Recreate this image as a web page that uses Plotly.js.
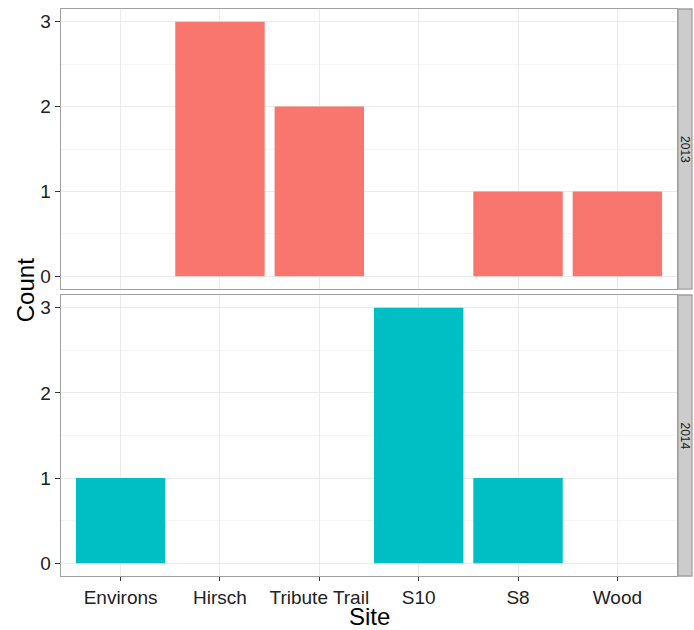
<!DOCTYPE html>
<html>
<head>
<meta charset="utf-8">
<script src="https://cdn.plot.ly/plotly-3.0.1.min.js"></script>
<style>html,body{margin:0;padding:0;background:#fff;}#chart{width:694px;height:630px;}</style>
</head>
<body>
<div id="chart"></div>
<script>
const sites = ["Environs", "Hirsch", "Tribute Trail", "S10", "S8", "Wood"];
const counts2013 = [null, 3, 2, null, 1, 1];
const counts2014 = [1, null, null, 3, 1, null];
const yTicks = [0, 1, 2, 3];
const facetLabels = ["2013", "2014"];

const fontFam = "Liberation Sans, Arial, sans-serif";
const gridCol = "#EBEBEB";
const borderCol = "#A0A0A0";

const data = [
  {type: "bar", x: sites, y: counts2013, xaxis: "x", yaxis: "y",
   marker: {color: "#F8766D", line: {width: 0}}, hoverinfo: "x+y", showlegend: false},
  {type: "bar", x: sites, y: counts2014, xaxis: "x2", yaxis: "y2",
   marker: {color: "#00BFC4", line: {width: 0}}, hoverinfo: "x+y", showlegend: false}
];

function xAxis(showLabels, anchor) {
  return {
    type: "category", categoryorder: "array", categoryarray: sites,
    range: [-0.6, sites.length - 0.4], anchor: anchor,
    showgrid: true, gridcolor: gridCol, gridwidth: 1,
    showline: true, mirror: true, linecolor: borderCol, linewidth: 1.3,
    ticks: showLabels ? "outside" : "", ticklen: 4, tickcolor: "#333", tickwidth: 1,
    showticklabels: showLabels,
    tickfont: {family: fontFam, size: 19, color: "#222"},
    zeroline: false, fixedrange: true
  };
}
function yAxis(domain, anchor) {
  return {
    domain: domain, anchor: anchor, range: [-0.15, 3.15],
    tickvals: yTicks, ticktext: yTicks.map(String),
    showgrid: true, gridcolor: gridCol, gridwidth: 1,
    minor: {dtick: 0.5, showgrid: true, gridcolor: "#F5F5F5", gridwidth: 1, ticks: ""},
    showline: true, mirror: true, linecolor: borderCol, linewidth: 1.3,
    ticks: "outside", ticklen: 5, tickcolor: "#333", tickwidth: 1,
    tickfont: {family: fontFam, size: 19, color: "#222"},
    zeroline: false, fixedrange: true
  };
}

const plotW = 694 - 61 - 17;
const stripW0 = 1 + 1 / plotW, stripW1 = 1 + 15 / plotW;
const topDom = [0.506, 1], botDom = [0, 0.4956];

const layout = {
  width: 694, height: 630,
  margin: {l: 61, r: 17, t: 9, b: 54},
  paper_bgcolor: "#fff", plot_bgcolor: "#fff",
  bargap: 0.1,
  xaxis: xAxis(false, "y"),
  yaxis: yAxis(topDom, "x"),
  xaxis2: xAxis(true, "y2"),
  yaxis2: yAxis(botDom, "x2"),
  shapes: [
    {type: "rect", xref: "paper", yref: "paper", x0: stripW0, x1: stripW1, y0: topDom[0], y1: topDom[1],
     fillcolor: "#CCCCCC", line: {color: borderCol, width: 1.3}, layer: "above"},
    {type: "rect", xref: "paper", yref: "paper", x0: stripW0, x1: stripW1, y0: botDom[0], y1: botDom[1],
     fillcolor: "#CCCCCC", line: {color: borderCol, width: 1.3}, layer: "above"}
  ],
  annotations: [
    {text: facetLabels[0], xref: "paper", yref: "paper", x: (stripW0 + stripW1) / 2, y: (topDom[0] + topDom[1]) / 2,
     showarrow: false, textangle: 90, font: {family: fontFam, size: 12, color: "#1A1A1A"}, xanchor: "center", yanchor: "middle"},
    {text: facetLabels[1], xref: "paper", yref: "paper", x: (stripW0 + stripW1) / 2, y: (botDom[0] + botDom[1]) / 2,
     showarrow: false, textangle: 90, font: {family: fontFam, size: 12, color: "#1A1A1A"}, xanchor: "center", yanchor: "middle"},
    {text: "Count", xref: "paper", yref: "paper", x: 0, xshift: -36, y: 0.504,
     showarrow: false, textangle: -90, font: {family: fontFam, size: 24, color: "#000"}, xanchor: "center", yanchor: "middle"},
    {text: "Site", xref: "paper", yref: "paper", x: 0.5, y: 0, yshift: -40,
     showarrow: false, font: {family: fontFam, size: 24, color: "#000"}, xanchor: "center", yanchor: "middle"}
  ]
};

Plotly.newPlot("chart", data, layout, {displayModeBar: false, staticPlot: true});
</script>
</body>
</html>
